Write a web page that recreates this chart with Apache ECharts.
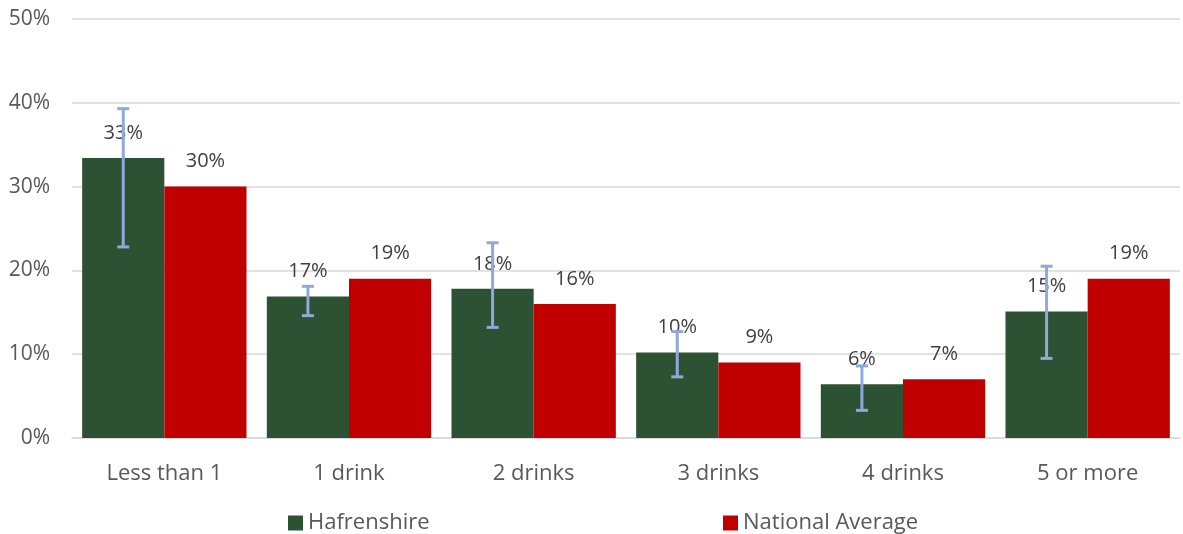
<!DOCTYPE html>
<html><head><meta charset="utf-8">
<script src="https://cdn.jsdelivr.net/npm/echarts@6/dist/echarts.min.js"></script>
<style>html,body{margin:0;padding:0;background:#fff}#c{width:1183px;height:534px}</style>
</head><body><div id="c"></div>
<script>
const categories = ['Less than 1', '1 drink', '2 drinks', '3 drinks', '4 drinks', '5 or more'];
const hafrenshire = [33.4, 16.9, 17.8, 10.2, 6.4, 15.1];
const national = [30, 19, 16, 9, 7, 19];
const errLow = [22.8, 14.6, 13.2, 7.3, 3.3, 9.5];
const errHigh = [39.3, 18.1, 23.3, 12.7, 8.6, 20.5];
const yTicks = [0, 10, 20, 30, 40, 50];

const font = '"Open Sans", "Liberation Sans", sans-serif';
const chart = echarts.init(document.getElementById('c'));
const labelStyle = {show: true, position: 'top', distance: 15, color: '#404040', fontSize: 20, fontFamily: font,
  formatter: p => Math.round(p.value) + '%'};
chart.setOption({
  animation: false,
  grid: {left: 72, right: 3, top: 19, bottom: 96},
  legend: [
    {data: ['Hafrenshire'], left: 283, top: 507, itemWidth: 15, itemHeight: 15, icon: 'rect', itemGap: 8,
     textStyle: {color: '#595959', fontSize: 22, fontFamily: font}},
    {data: ['National Average'], left: 718, top: 507, itemWidth: 15, itemHeight: 15, icon: 'rect',
     textStyle: {color: '#595959', fontSize: 22, fontFamily: font}}
  ],
  xAxis: {type: 'category', data: categories,
    axisLine: {lineStyle: {color: '#d9d9d9', width: 1.5}}, axisTick: {show: false},
    axisLabel: {color: '#595959', fontSize: 22, fontFamily: font, margin: 25}},
  yAxis: {type: 'value', min: yTicks[0], max: yTicks[yTicks.length-1], interval: 10,
    axisLine: {show: false}, axisTick: {show: false},
    splitLine: {lineStyle: {color: '#d9d9d9', width: 1.5}},
    axisLabel: {color: '#595959', fontSize: 21, fontFamily: font, margin: 22, formatter: v => v + '%'}},
  series: [
    {name: 'Hafrenshire', type: 'bar', data: hafrenshire, barGap: '0%', barCategoryGap: '11%',
     itemStyle: {color: '#2D5133'}, label: labelStyle},
    {name: 'National Average', type: 'bar', data: national,
     itemStyle: {color: '#C00000'}, label: labelStyle},
    {name: 'err', type: 'custom', data: categories.map((c, i) => [i, errLow[i], errHigh[i]]), z: 10,
     renderItem: (params, api) => {
       const idx = api.value(0);
       const lo = api.coord([idx, api.value(1)]);
       const hi = api.coord([idx, api.value(2)]);
       const bw = api.size([1, 0])[0];
       const x = lo[0] - bw * 0.89 / 4;
       const cap = 6;
       const st = {stroke: '#8EA9DB', lineWidth: 3};
       return {type: 'group', children: [
         {type: 'line', shape: {x1: x, y1: lo[1], x2: x, y2: hi[1]}, style: st},
         {type: 'line', shape: {x1: x - cap, y1: lo[1], x2: x + cap, y2: lo[1]}, style: st},
         {type: 'line', shape: {x1: x - cap, y1: hi[1], x2: x + cap, y2: hi[1]}, style: st}
       ]};
     }}
  ]
});
</script></body></html>
